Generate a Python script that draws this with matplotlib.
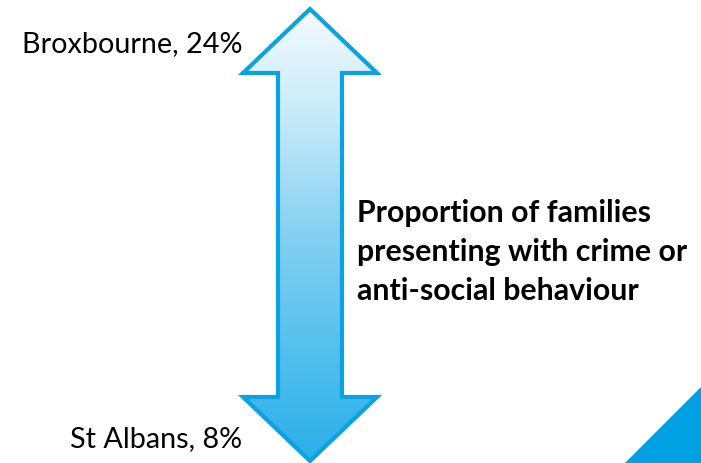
import numpy as np
import matplotlib.pyplot as plt
from matplotlib.patches import Polygon
from matplotlib.colors import LinearSegmentedColormap

# labels / values
top_area = 'Broxbourne'
top_value = 24
bottom_area = 'St Albans'
bottom_value = 8
caption = ['Proportion of families', 'presenting with crime or', 'anti-social behaviour']

blue = '#0aa2e3'

fig = plt.figure(figsize=(7.01, 4.64), dpi=100)
ax = fig.add_axes([0, 0, 1, 1])
ax.set_xlim(0, 701)
ax.set_ylim(464, 0)
ax.axis('off')

# double headed arrow
cx, y_top, y_bot = 310, 10, 462
head_h, head_w, shaft_w = 64, 67, 32
pts = [(cx, y_top), (cx + head_w, y_top + head_h), (cx + shaft_w, y_top + head_h),
       (cx + shaft_w, y_bot - head_h), (cx + head_w, y_bot - head_h), (cx, y_bot),
       (cx - head_w, y_bot - head_h), (cx - shaft_w, y_bot - head_h),
       (cx - shaft_w, y_top + head_h), (cx - head_w, y_top + head_h)]
arrow = Polygon(pts, closed=True, facecolor='none', edgecolor='none')
ax.add_patch(arrow)

cmap = LinearSegmentedColormap.from_list('grad', ['#f4fbfe', '#c4e9f9', '#85d0f1', '#55c0ee', '#2aaee8'])
grad = np.linspace(0, 1, 256).reshape(-1, 1)
im = ax.imshow(grad, cmap=cmap, aspect='auto', extent=[cx - head_w, cx + head_w, y_bot, y_top],
               interpolation='bicubic')
im.set_clip_path(arrow)
ax.add_patch(Polygon(pts, closed=True, facecolor='none', edgecolor=blue, linewidth=3.0,
                     joinstyle='miter'))

# corner triangle
ax.add_patch(Polygon([(701, 388), (701, 464), (625, 464)], closed=True, facecolor='#00a0e3',
                     edgecolor='none'))

font = 'Lato'
ax.text(242, 52, f'{top_area}, {top_value}%', ha='right', va='baseline', fontsize=20.7,
        family=font, color='black')
ax.text(242, 447, f'{bottom_area}, {bottom_value}%', ha='right', va='baseline', fontsize=20.7,
        family=font, color='black')
for i, line in enumerate(caption):
    ax.text(357, 222 + 39 * i, line, ha='left', va='baseline', fontsize=21.8,
            family=font, fontweight='bold', color='black')

fig.savefig('out.png', dpi=100)
